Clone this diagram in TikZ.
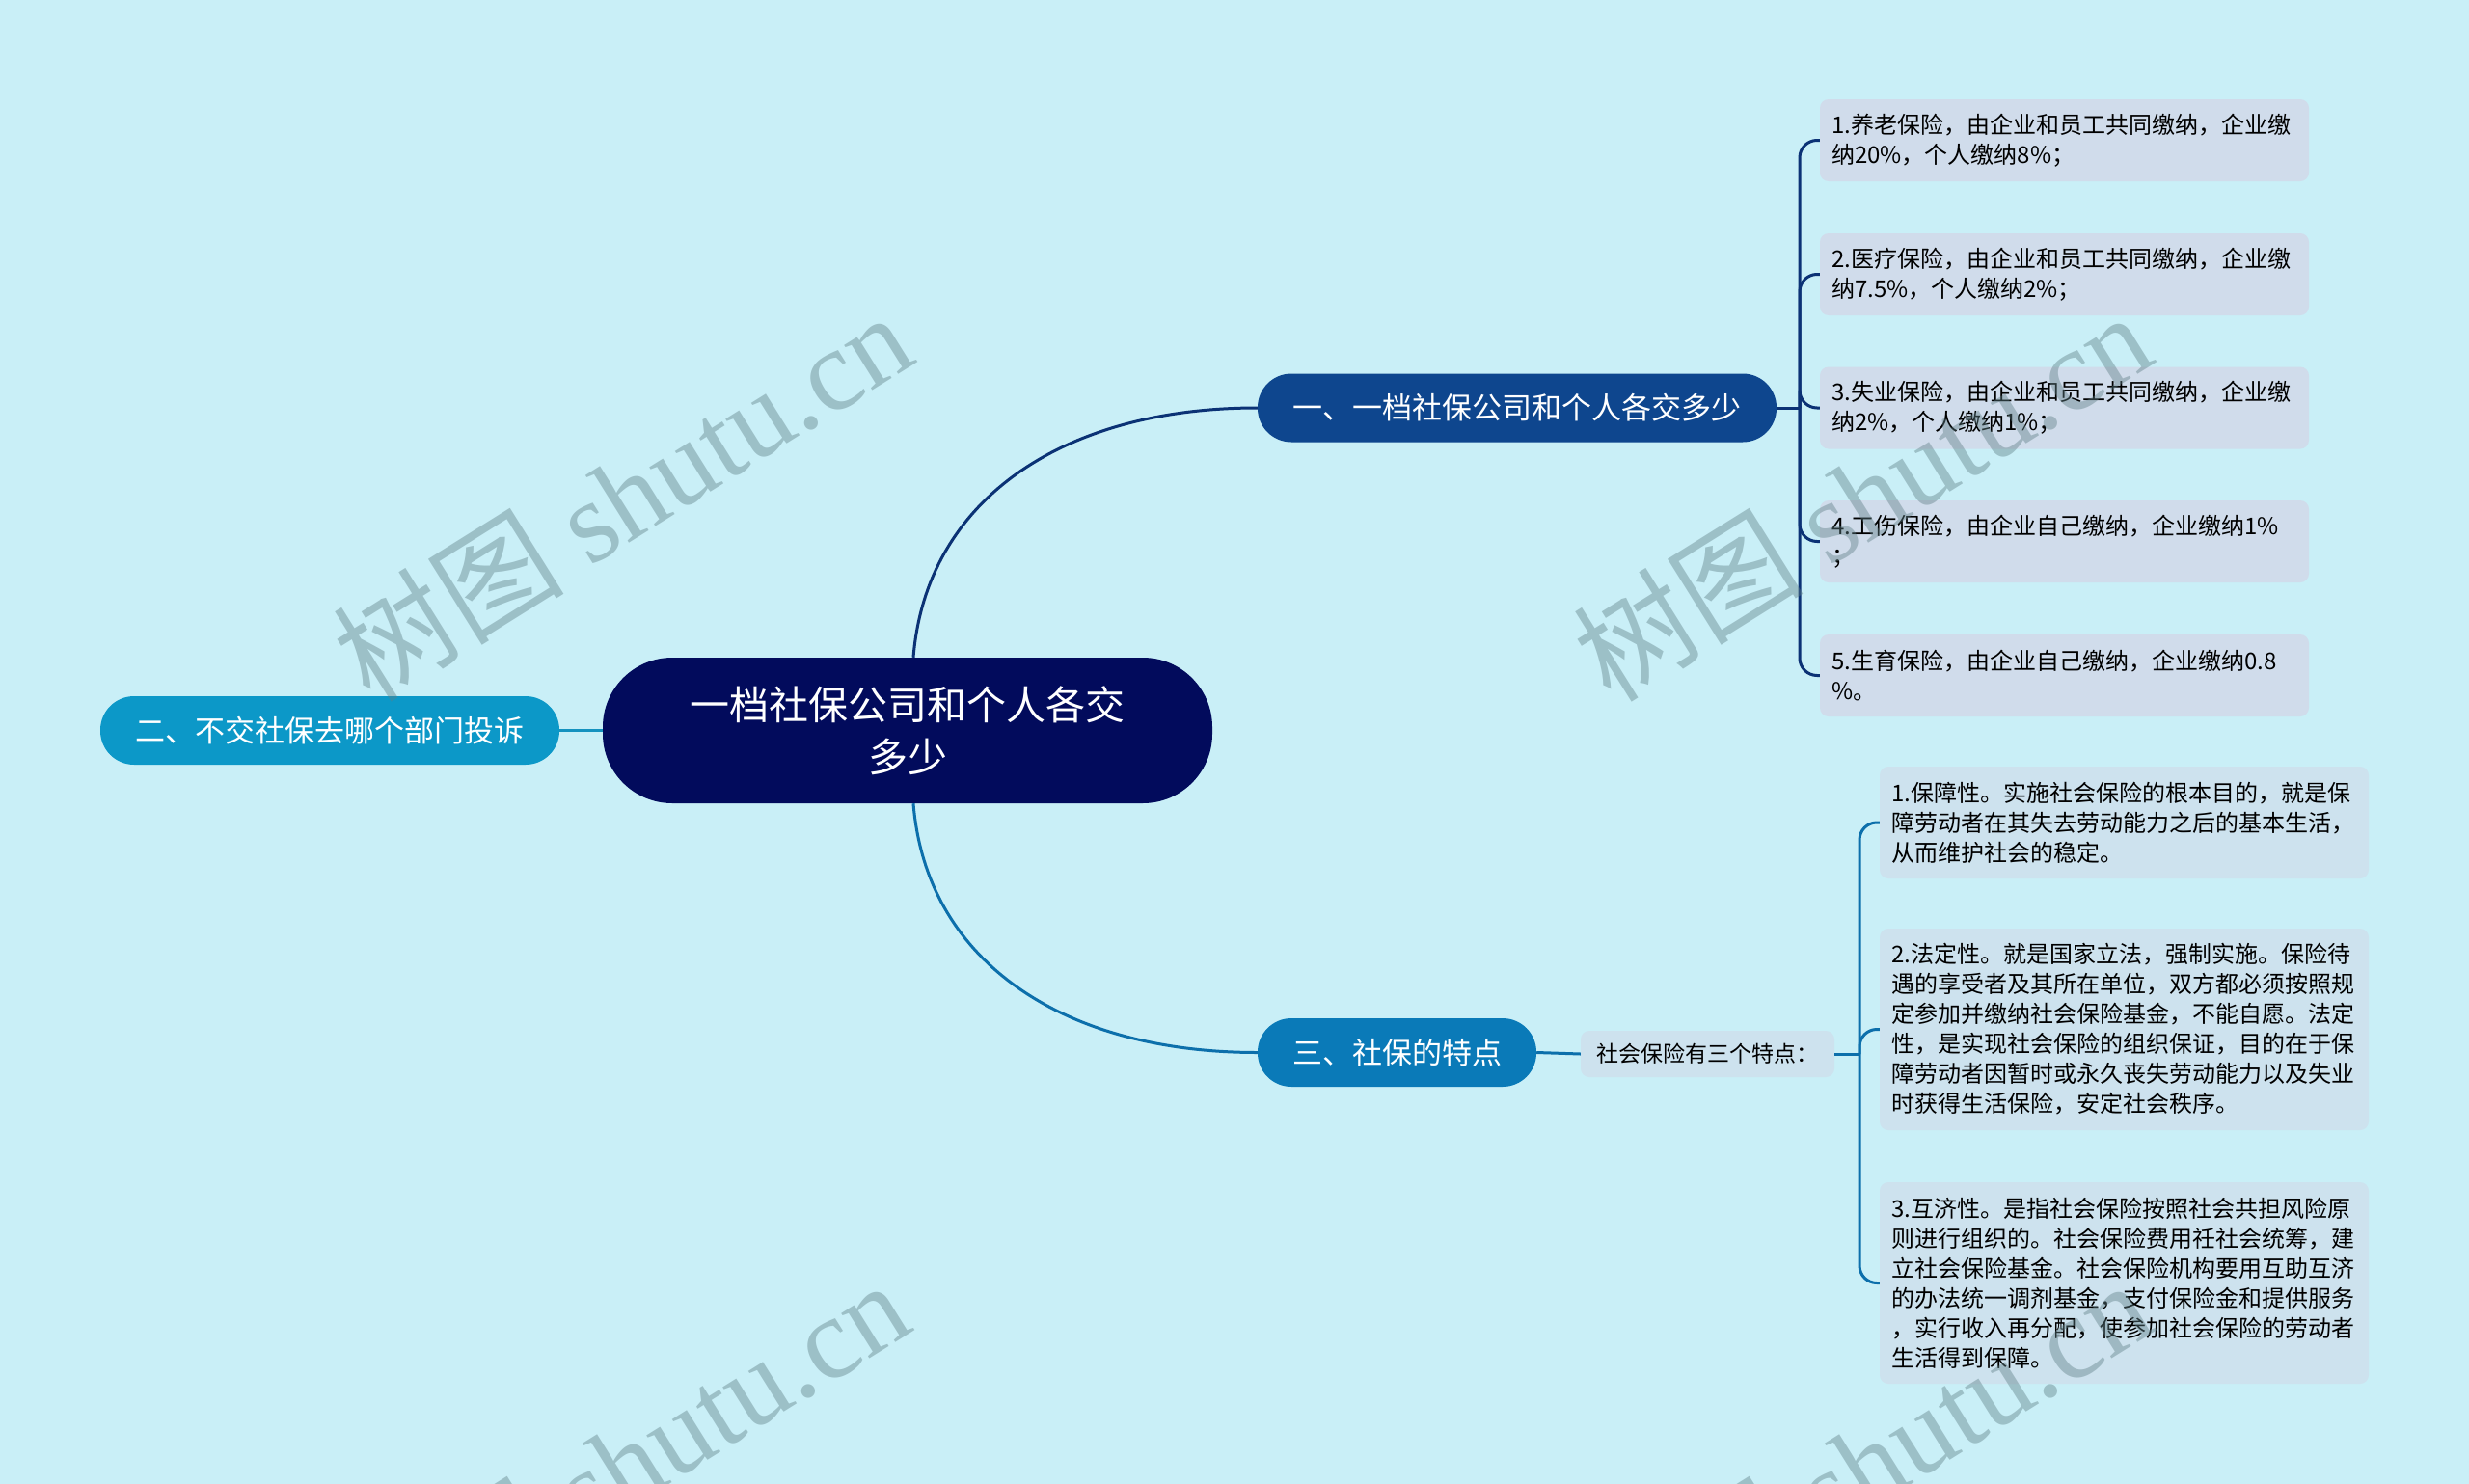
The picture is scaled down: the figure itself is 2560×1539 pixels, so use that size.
\documentclass[tikz,border=0pt]{standalone}
\usepackage{fontspec}
\setmainfont{Noto Sans CJK SC}
\newfontfamily\wmserif{Liberation Serif}
\definecolor{bgc}{HTML}{C9EFF7}
\definecolor{rootc}{HTML}{020B5C}
\definecolor{bonec}{HTML}{0E468E}
\definecolor{btwoc}{HTML}{0C98C8}
\definecolor{bthreec}{HTML}{0A7AB8}
\definecolor{leafac}{HTML}{D0DCEB}
\definecolor{leafbc}{HTML}{CDE2EE}
\definecolor{lineone}{HTML}{0B3275}
\definecolor{linetwo}{HTML}{1592BF}
\definecolor{linethree}{HTML}{0C6FAB}
\definecolor{wmc}{HTML}{5F7F86}
\tikzset{
  rootbox/.style={fill=rootc, text=white, rounded corners=72pt, minimum width=632pt, minimum height=151pt, align=center, text width=520pt, inner sep=0pt, font=\fontsize{41}{54}\selectfont},
  branchbox/.style={text=white, rounded corners=35pt, minimum height=71pt, inner xsep=0pt, inner ysep=0pt, font=\fontsize{31}{36}\selectfont},
  leafa/.style={fill=leafac, rounded corners=9pt, text=black, align=left, text width=483pt, inner xsep=12pt, inner ysep=0pt, minimum height=85pt, font=\fontsize{24}{31}\selectfont},
  leafb/.style={fill=leafbc, rounded corners=9pt, text=black, align=left, text width=483pt, inner xsep=12pt, inner ysep=0pt, font=\fontsize{24}{31}\selectfont},
  midbox/.style={fill=leafbc, rounded corners=9pt, text=black, minimum width=263pt, minimum height=48pt, inner sep=0pt, font=\fontsize{23}{28}\selectfont},
  conn/.style={line width=3pt},
  brk/.style={line width=3pt, rounded corners=18pt},
  wm/.style={text=wmc, opacity=0.42, rotate=32, inner sep=0pt, font=\fontsize{120}{122}\selectfont}
}
\begin{document}
\begin{tikzpicture}[x=1pt, y=-1pt]
\useasboundingbox (0,0) rectangle (2560,1539);
\fill[bgc] (0,0) rectangle (2560,1539);

% nodes
\node[rootbox] (c) at (941,757.5) {一档社保公司和个人各交\\多少};
\node[branchbox, fill=bonec, minimum width=538pt] (b1) at (1573,423) {一、一档社保公司和个人各交多少};
\node[branchbox, fill=btwoc, minimum width=476pt] (b2) at (342,757.5) {二、不交社保去哪个部门投诉};
\node[branchbox, fill=bthreec, minimum width=289pt] (b3) at (1448.5,1091.5) {三、社保的特点};
\node[midbox] (m) at (1770.5,1093) {社会保险有三个特点：};

\node[leafa] (t1) at (2140.5,145.5) {1.养老保险，由企业和员工共同缴纳，企业缴\\纳20\%，个人缴纳8\%；};
\node[leafa] (t2) at (2140.5,284.5) {2.医疗保险，由企业和员工共同缴纳，企业缴\\纳7.5\%，个人缴纳2\%；};
\node[leafa] (t3) at (2140.5,423) {3.失业保险，由企业和员工共同缴纳，企业缴\\纳2\%，个人缴纳1\%；};
\node[leafa] (t4) at (2140.5,561.5) {4.工伤保险，由企业自己缴纳，企业缴纳1\%\\；};
\node[leafa] (t5) at (2140.5,700.5) {5.生育保险，由企业自己缴纳，企业缴纳0.8\\\%。};

\node[leafb, minimum height=116pt] (u1) at (2202.5,853) {1.保障性。实施社会保险的根本目的，就是保\\障劳动者在其失去劳动能力之后的基本生活，\\从而维护社会的稳定。};
\node[leafb, minimum height=209pt] (u2) at (2202.5,1067.5) {2.法定性。就是国家立法，强制实施。保险待\\遇的享受者及其所在单位，双方都必须按照规\\定参加并缴纳社会保险基金，不能自愿。法定\\性，是实现社会保险的组织保证，目的在于保\\障劳动者因暂时或永久丧失劳动能力以及失业\\时获得生活保险，安定社会秩序。};
\node[leafb, minimum height=209pt] (u3) at (2202.5,1330.5) {3.互济性。是指社会保险按照社会共担风险原\\则进行组织的。社会保险费用祍社会统筹，建\\立社会保险基金。社会保险机构要用互助互济\\的办法统一调剂基金，支付保险金和提供服务\\，实行收入再分配，使参加社会保险的劳动者\\生活得到保障。};

% junctions
\coordinate (j1) at (1866,423);
\coordinate (j2) at (1928,1093);

% connectors
\draw[conn, lineone] ([xshift=6pt]c.north) .. controls +(13,-162) and +(-204,0) .. (b1.west);
\draw[conn, linethree] ([xshift=6pt]c.south) .. controls +(13,162) and +(-204,0) .. (b3.west);
\draw[conn, linetwo] (c.west) -- (b2.east);

\draw[conn, lineone] (b1.east) -- (j1);
\foreach \t in {t1,t2,t3,t4,t5}{
  \draw[brk, lineone] (j1) |- (\t.west);
}
\draw[conn, linethree] (b3.east) -- (m.west);
\draw[conn, linethree] (m.east) -- (j2);
\foreach \u in {u1,u2,u3}{
  \draw[brk, linethree] (j2) |- (\u.west);
}

% watermarks
\begin{scope}
\clip (0,0) rectangle (2560,1539);
\node[wm] (w1) at (645,514) {树图 {\wmserif shutu.cn}};
\node[wm] (w2) at (1930,514) {树图 {\wmserif shutu.cn}};
\node[wm] (w3) at (642,1518) {树图 {\wmserif shutu.cn}};
\node[wm] (w4) at (1930,1518) {树图 {\wmserif shutu.cn}};
\end{scope}
\end{tikzpicture}
\end{document}
